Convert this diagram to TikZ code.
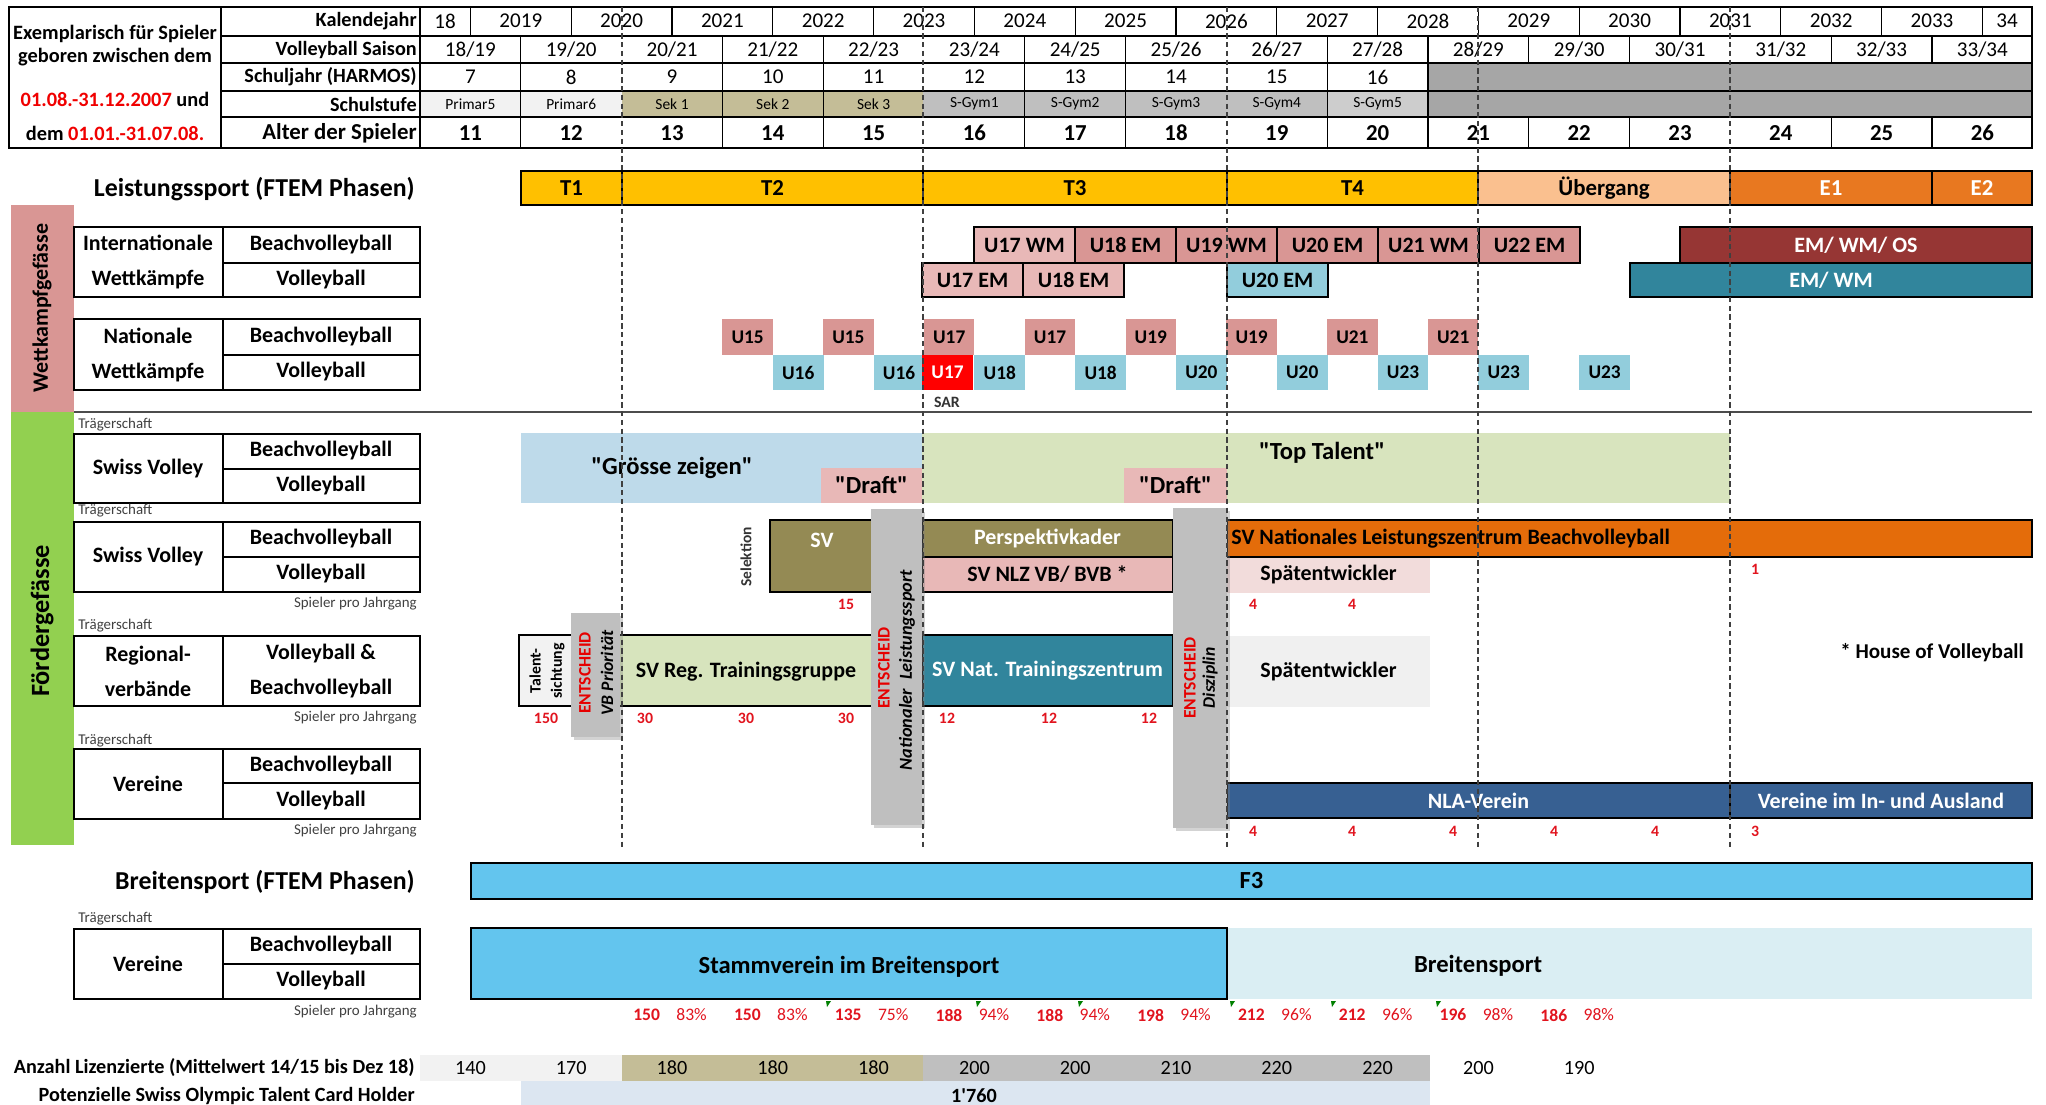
\documentclass[tikz,border=0pt]{standalone}
\usepackage{fontspec}
\setmainfont{Carlito}
\usetikzlibrary{fit,shadows}

\newcommand{\fsz}[2]{\fontsize{#1}{#2}\selectfont}

\definecolor{phasegold}{RGB}{255,192,0}
\definecolor{phasepeach}{RGB}{250,192,143}
\definecolor{phaseorange}{RGB}{232,120,32}
\definecolor{compred}{RGB}{217,150,148}
\definecolor{comppale}{RGB}{232,184,183}
\definecolor{compblue}{RGB}{146,205,220}
\definecolor{sarred}{RGB}{255,0,0}
\definecolor{darkwine}{RGB}{150,54,52}
\definecolor{seateal}{RGB}{49,133,156}
\definecolor{kaderolive}{RGB}{148,138,84}
\definecolor{sekkhaki}{RGB}{196,189,151}
\definecolor{reggreen}{RGB}{215,228,189}
\definecolor{showblue}{RGB}{190,218,234}
\definecolor{topgreen}{RGB}{216,228,190}
\definecolor{latepink}{RGB}{242,220,219}
\definecolor{lategray}{RGB}{240,240,240}
\definecolor{nlzorange}{RGB}{228,108,10}
\definecolor{nlablue}{RGB}{55,96,146}
\definecolor{decgray}{RGB}{191,191,191}
\definecolor{skyblue}{RGB}{99,197,238}
\definecolor{broadlight}{RGB}{218,238,243}
\definecolor{tcblue}{RGB}{220,230,241}
\definecolor{wkband}{RGB}{217,150,148}
\definecolor{fgband}{RGB}{146,208,80}
\definecolor{prigray}{RGB}{242,242,242}
\definecolor{gymgray}{RGB}{191,191,191}
\definecolor{gymlight}{RGB}{205,205,205}
\definecolor{restgray}{RGB}{166,166,166}
\definecolor{numred}{RGB}{225,20,30}
\definecolor{headred}{RGB}{240,0,0}
\definecolor{decred}{RGB}{230,0,0}
\definecolor{commentgreen}{RGB}{0,128,0}

\begin{document}
\begin{tikzpicture}[x=0.02cm,y=-0.02cm]
    \tikzset{
        every node/.style={inner sep=0pt},
        rowhead/.style={anchor=east,font=\fsz{11.5}{13}\bfseries},
        val/.style={font=\fsz{12}{13}},
        stufe/.style={font=\fsz{8.8}{10}},
        ftem/.style={draw,line width=0.8pt},
        ftemtxt/.style={font=\fsz{13}{15}\bfseries},
        comp/.style={draw,line width=0.6pt},
        comptxt/.style={font=\fsz{12.5}{14}\bfseries},
        sqtxt/.style={font=\fsz{11}{12}\bfseries},
        lblbox/.style={draw,line width=0.7pt},
        lbl/.style={font=\fsz{12.5}{20}\bfseries,align=center},
        carrier/.style={anchor=west,font=\fsz{8.5}{10},text=black!75},
        perjg/.style={anchor=east,font=\fsz{8.5}{10},text=black!75},
        headcount/.style={font=\fsz{9}{10}\bfseries,text=numred},
        prog/.style={draw,line width=1.4pt},
        progtxt/.style={font=\fsz{12.5}{14}\bfseries},
        decide/.style={fill=decgray,drop shadow={shadow xshift=1.5pt,shadow yshift=-1.5pt,opacity=.35}},
        decidetxt/.style={rotate=90,font=\fsz{10}{11}\bfseries},
        claim/.style={font=\fsz{14}{16}\bfseries},
        section/.style={anchor=east,font=\fsz{14.7}{17}\bfseries},
        yearline/.style={densely dashed,line width=0.6pt,black!75}
    }
    \useasboundingbox (0,0) rectangle (2046,1105);

    % Kopf
    \fill[prigray] (420,91) rectangle (622,117);
    \fill[sekkhaki] (622,91) rectangle (923,117);
    \fill[gymgray] (923,91) rectangle (1328,117);
    \fill[gymlight] (1328,91) rectangle (1428,117);
    \fill[restgray] (1428,63) rectangle (2032,117);
    \draw[line width=0.7pt] (9,7) rectangle (2032,148);
    \draw[line width=0.7pt] (221,7) -- (221,148) (420,7) -- (420,148);
    \foreach \y in {36,63,91,117}
        \draw[line width=0.6pt] (221,\y) -- (2032,\y);
    \draw[line width=1.6pt] (9,148) -- (2032,148);
    \foreach \i in {0,...,15}
        \draw[line width=0.6pt] ({470.4+100.8*\i},7) -- ++(0,29);
    \foreach \i in {1,3,4,6,7,9,10,11,12,14,15}
        \draw[line width=0.6pt] ({420+100.8*\i},36) -- ++(0,27)
            ({420+100.8*\i},117) -- ++(0,31);
    \foreach \i in {1,3,4,6,7,9,10}
        \draw[line width=0.6pt] ({420+100.8*\i},63) -- ++(0,54);

    \node[font=\fsz{11.6}{14}\bfseries] (expl-1) at (115,34) {Exemplarisch für Spieler};
    \node[font=\fsz{11.6}{14}\bfseries] (expl-2) at (115,57) {geboren zwischen dem};
    \node[font=\fsz{11.6}{14}\bfseries] (expl-3) at (115,99)
        {{\color{headred}01.08.-31.12.2007} und};
    \node[font=\fsz{11.6}{14}\bfseries] (expl-4) at (115,133)
        {dem {\color{headred}01.01.-31.07.08.}};

    \node[rowhead] (kalender) at (417,21) {Kalendejahr};
    \node[rowhead] (saison) at (417,50) {Volleyball Saison};
    \node[rowhead] (schuljahr) at (417,77) {Schuljahr (HARMOS)};
    \node[rowhead] (schulstufe) at (417,104) {Schulstufe};
    \node[rowhead,font=\fsz{13}{15}\bfseries] (alter) at (417,133) {Alter der Spieler};

    \node[val] (kj-0) at (445,21) {18};
    \foreach \yr [count=\i] in {2019,2020,...,2033}
        \node[val] (kj-\i) at ({420+100.8*\i},21) {\yr};
    \node[val] (kj-16) at (2007,21) {34};
    \foreach \s [count=\i from 0] in {18/19,19/20,20/21,21/22,22/23,23/24,24/25,25/26,
            26/27,27/28,28/29,29/30,30/31,31/32,32/33,33/34}
        \node[val] (vs-\i) at ({470.4+100.8*\i},50) {\s};
    \foreach \s [count=\i from 0] in {7,...,16}
        \node[val] (sj-\i) at ({470.4+100.8*\i},77) {\s};
    \foreach \s [count=\i from 0] in {Primar5,Primar6,Sek 1,Sek 2,Sek 3,
            S-Gym1,S-Gym2,S-Gym3,S-Gym4,S-Gym5}
        \node[stufe] (st-\i) at ({470.4+100.8*\i},104) {\s};
    \foreach \a [count=\i from 0] in {11,...,26}
        \node[font=\fsz{13}{15}\bfseries] (age-\i) at ({470.4+100.8*\i},133) {\a};

    % Leistungssport
    \node[section] (leistung) at (415,189) {Leistungssport (FTEM Phasen)};
    \foreach \nm/\xa/\xb/\col/\tc/\lab in {t1/521/622/phasegold/black/T1,
            t2/622/923/phasegold/black/T2, t3/923/1227/phasegold/black/T3,
            t4/1227/1478/phasegold/black/T4, uebergang/1478/1730/phasepeach/black/Übergang,
            e1/1730/1932/phaseorange/white/E1, e2/1932/2032/phaseorange/white/E2} {
        \node[ftem,fill=\col,fit={(\xa,171) (\xb,205)}] (\nm) {};
        \node[ftemtxt,text=\tc] (\nm-txt) at (\nm) {\lab};
    }

    \fill[wkband] (11,205) rectangle (74,412);
    \node[rotate=90,font=\fsz{12.5}{14}\bfseries] (wettkampf) at (42,308) {Wettkampfgefässe};
    \fill[fgband] (11,412) rectangle (74,845);
    \node[rotate=90,font=\fsz{15}{17}\bfseries] (foerder) at (42,621) {Fördergefässe};

    \draw[lblbox] (74,227) rectangle (420,297) (223,227) -- (223,297) (223,263) -- (420,263);
    \node[lbl] (intl) at (148,262) {Internationale\\Wettkämpfe};
    \node[lbl] (intl-bv) at (321,245) {Beachvolleyball};
    \node[lbl] (intl-vb) at (321,280) {Volleyball};
    \draw[lblbox] (74,319) rectangle (420,390) (223,319) -- (223,390) (223,355) -- (420,355);
    \node[lbl] (nat) at (148,355) {Nationale\\Wettkämpfe};
    \node[lbl] (nat-bv) at (321,337) {Beachvolleyball};
    \node[lbl] (nat-vb) at (321,372) {Volleyball};

    \foreach \nm/\xa/\xb/\ya/\yb/\col/\tc/\lab in {
            u17wm/974/1075/227/263/comppale/black/U17 WM,
            u18em-bv/1075/1176/227/263/compred/black/U18 EM,
            u19wm/1176/1277/227/263/compred/black/U19 WM,
            u20em-bv/1277/1378/227/263/compred/black/U20 EM,
            u21wm/1378/1479/227/263/compred/black/U21 WM,
            u22em/1479/1580/227/263/compred/black/U22 EM,
            emwmos/1680/2032/227/263/darkwine/white/{EM/ WM/ OS},
            u17em/922/1023/263/297/comppale/black/U17 EM,
            u18em-vb/1023/1124/263/297/comppale/black/U18 EM,
            u20em-vb/1227/1328/263/297/compblue/black/U20 EM,
            emwm/1630/2032/263/297/seateal/white/{EM/ WM}} {
        \node[comp,fill=\col,fit={(\xa,\ya) (\xb,\yb)}] (\nm) {};
        \node[comptxt,text=\tc] (\nm-txt) at (\nm) {\lab};
    }

    \foreach \lab [count=\i from 3] in {U15,U15,U17,U17,U19,U19,U21,U21} {
        \node[fill=compred,fit={({420+100.8*\i},319) ({470.4+100.8*\i},355)}] (nb-\i) {};
        \node[sqtxt] (nb-\i-txt) at (nb-\i) {\lab};
    }
    \foreach \lab [count=\i from 3] in {U16,U16,U18,U18,U20,U20,U23,U23,U23} {
        \node[fill=compblue,fit={({470.4+100.8*\i},355) ({521.2+100.8*\i},390)}] (nv-\i) {};
        \node[sqtxt] (nv-\i-txt) at (nv-\i) {\lab};
    }
    \node[fill=sarred,fit={(922,355) (973,390)}] (u17sar) {};
    \node[sqtxt,text=white] (u17sar-txt) at (u17sar) {U17};
    \node[font=\fsz{9}{10}\bfseries,text=black!80] (sar) at (947,402) {SAR};

    \draw[line width=1pt,black!70] (74,412) -- (2032,412);

    % Foerdergefaesse
    \node[carrier] (traeger-1) at (78,425) {Trägerschaft};
    \draw[lblbox] (74,434) rectangle (420,503) (223,434) -- (223,503) (223,469) -- (420,469);
    \node[lbl] (sv-1) at (148,469) {Swiss Volley};
    \node[lbl] (sv-1-bv) at (321,451) {Beachvolleyball};
    \node[lbl] (sv-1-vb) at (321,486) {Volleyball};

    \node[carrier] (traeger-2) at (78,511) {Trägerschaft};
    \draw[lblbox] (74,522) rectangle (420,592) (223,522) -- (223,592) (223,557) -- (420,557);
    \node[lbl] (sv-2) at (148,557) {Swiss Volley};
    \node[lbl] (sv-2-bv) at (321,539) {Beachvolleyball};
    \node[lbl] (sv-2-vb) at (321,574) {Volleyball};
    \node[perjg] (perjg-1) at (417,604) {Spieler pro Jahrgang};

    \node[carrier] (traeger-3) at (78,626) {Trägerschaft};
    \draw[lblbox] (74,636) rectangle (420,706) (223,636) -- (223,706);
    \node[lbl] (reg) at (148,671) {Regional-\\verbände};
    \node[lbl] (reg-vb) at (321,671) {Volleyball \&\\Beachvolleyball};
    \node[perjg] (perjg-2) at (417,718) {Spieler pro Jahrgang};

    \node[carrier] (traeger-4) at (78,741) {Trägerschaft};
    \draw[lblbox] (74,749) rectangle (420,819) (223,749) -- (223,819) (223,783) -- (420,783);
    \node[lbl] (verein-1) at (148,784) {Vereine};
    \node[lbl] (verein-1-bv) at (321,766) {Beachvolleyball};
    \node[lbl] (verein-1-vb) at (321,801) {Volleyball};
    \node[perjg] (perjg-3) at (417,831) {Spieler pro Jahrgang};

    \node[fill=showblue,fit={(521,433) (922,503)}] (groesse) {};
    \node[claim] (groesse-txt) at (672,468) {\textquotedbl Grösse zeigen\textquotedbl};
    \node[fill=topgreen,fit={(922,433) (1730,503)}] (toptalent) {};
    \node[claim] (toptalent-txt) at (1322,453) {\textquotedbl Top Talent\textquotedbl};
    \node[fill=comppale,fit={(821,468) (922,503)}] (draft-1) {};
    \node[claim] (draft-1-txt) at (draft-1) {\textquotedbl Draft\textquotedbl};
    \node[fill=comppale,fit={(1124,468) (1227,503)}] (draft-2) {};
    \node[claim] (draft-2-txt) at (draft-2) {\textquotedbl Draft\textquotedbl};

    \node[rotate=90,font=\fsz{8.8}{10}\bfseries,text=black!80] (selektion) at (746,557) {Selektion};
    \node[prog,fill=kaderolive,fit={(770,520) (922,592)}] (sv) {};
    \node[progtxt,text=white] (sv-txt) at (822,540) {SV};
    \node[prog,fill=kaderolive,fit={(922,520) (1173,557)}] (kader) {};
    \node[progtxt,text=white] (kader-txt) at (kader) {Perspektivkader};
    \node[prog,fill=comppale,fit={(922,557) (1173,592)}] (nlz) {};
    \node[progtxt] (nlz-txt) at (nlz) {SV NLZ VB/ BVB *};
    \node[fill=latepink,fit={(1227,557) (1430,593)}] (spaet-1) {};
    \node[progtxt] (spaet-1-txt) at (spaet-1) {Spätentwickler};
    \node[prog,fill=nlzorange,fit={(1227,520) (2032,557)}] (nlz-bv) {};
    \node[progtxt,anchor=west] (nlz-bv-txt) at (1231,539)
        {SV Nationales Leistungszentrum Beachvolleyball};
    \node[headcount] (n-sv) at (846,604) {15};
    \node[headcount] (n-spaet-1) at (1253,604) {4};
    \node[headcount] (n-spaet-2) at (1352,604) {4};
    \node[headcount] (n-nlz) at (1755,569) {1};

    \node[prog,fill=prigray,fit={(519,635) (590,706)}] (talent) {};
    \node[rotate=90,align=center,font=\fsz{9}{12}\bfseries] (talent-txt) at (547,671) {Talent-\\sichtung};
    \node[prog,fill=reggreen,fit={(590,635) (880,706)}] (regtg) {};
    \node[progtxt] (regtg-txt) at (746,672) {SV Reg. Trainingsgruppe};
    \node[prog,fill=seateal,fit={(922,635) (1173,706)}] (nattz) {};
    \node[progtxt,text=white] (nattz-txt) at (nattz) {SV Nat. Trainingszentrum};
    \node[fill=lategray,fit={(1227,636) (1430,707)}] (spaet-2) {};
    \node[progtxt] (spaet-2-txt) at (spaet-2) {Spätentwickler};
    \node[headcount] (n-talent) at (546,718) {150};
    \foreach \nx [count=\i] in {645,746,846}
        \node[headcount] (n-reg-\i) at (\nx,718) {30};
    \foreach \nx [count=\i] in {947,1049,1149}
        \node[headcount] (n-nat-\i) at (\nx,718) {12};
    \node[font=\fsz{12}{14}\bfseries] (hov) at (1932,653) {* House of Volleyball};

    \node[prog,fill=nlablue,fit={(1227,783) (1730,818)}] (nla) {};
    \node[progtxt,text=white] (nla-txt) at (nla) {NLA-Verein};
    \node[prog,fill=nlablue,fit={(1730,783) (2032,818)}] (ausland) {};
    \node[progtxt,text=white] (ausland-txt) at (ausland) {Vereine im In- und Ausland};
    \foreach \nx [count=\i] in {1253,1352,1453,1554,1655}
        \node[headcount] (n-nla-\i) at (\nx,831) {4};
    \node[headcount] (n-ausland) at (1755,831) {3};

    % Entscheide
    \node[decide,fit={(571,613) (620,737)}] (dec-vb) {};
    \node[decidetxt,text=decred] (dec-vb-1) at (585,673) {ENTSCHEID};
    \node[decidetxt,font=\fsz{10}{11}\bfseries\itshape] (dec-vb-2) at (607,673) {VB Priorität};
    \node[decide,fit={(871,509) (922,825)}] (dec-nat) {};
    \node[decidetxt,text=decred] (dec-nat-1) at (884,668) {ENTSCHEID};
    \node[decidetxt,font=\fsz{10.4}{11}\bfseries\itshape] (dec-nat-2) at (907,670)
        {Nationaler\enspace Leistungssport};
    \node[decide,fit={(1173,508) (1227,828)}] (dec-dis) {};
    \node[decidetxt,text=decred] (dec-dis-1) at (1190,678) {ENTSCHEID};
    \node[decidetxt,font=\fsz{10}{11}\bfseries\itshape] (dec-dis-2) at (1210,678) {Disziplin};

    \foreach \gx in {622,923,1227,1478,1730}
        \draw[yearline] (\gx,7) -- (\gx,848);

    % Breitensport
    \node[section] (breiten) at (415,882) {Breitensport (FTEM Phasen)};
    \node[ftem,fill=skyblue,fit={(471,863) (2032,899)}] (f3) {};
    \node[claim] (f3-txt) at (f3) {F3};
    \node[carrier] (traeger-5) at (78,919) {Trägerschaft};
    \draw[lblbox] (74,929) rectangle (420,999) (223,929) -- (223,999) (223,964) -- (420,964);
    \node[lbl] (verein-2) at (148,964) {Vereine};
    \node[lbl] (verein-2-bv) at (321,946) {Beachvolleyball};
    \node[lbl] (verein-2-vb) at (321,981) {Volleyball};
    \node[perjg] (perjg-4) at (417,1012) {Spieler pro Jahrgang};
    \node[fill=broadlight,fit={(1227,928) (2032,999)}] (breit) {};
    \node[claim] (breit-txt) at (1478,966) {Breitensport};
    \node[prog,fill=skyblue,fit={(471,928) (1227,999)}] (stamm) {};
    \node[claim] (stamm-txt) at (849,967) {Stammverein im Breitensport};
    \foreach \n/\p [count=\i from 2] in {150/83\%,150/83\%,135/75\%,188/94\%,188/94\%,
            198/94\%,212/96\%,212/96\%,196/98\%,186/98\%} {
        \node[font=\fsz{10}{12}\bfseries,text=numred] (bn-\i) at ({445+100.8*\i},1015) {\n};
        \node[font=\fsz{10}{12},text=numred] (bp-\i) at ({490+100.8*\i},1015) {\p};
    }
    \foreach \mx in {826,976,1078,1230,1331,1436}
        \fill[commentgreen] (\mx,1001) -- ++(5,0) -- ++(-4,6) -- cycle;

    % Lizenzierte
    \fill[prigray] (420,1055) rectangle (622,1081);
    \fill[sekkhaki] (622,1055) rectangle (923,1081);
    \fill[gymgray] (923,1055) rectangle (1430,1081);
    \fill[tcblue] (521,1081) rectangle (1430,1105);
    \node[section,font=\fsz{11.5}{13}\bfseries] (lizenz) at (415,1068)
        {Anzahl Lizenzierte (Mittelwert 14/15 bis Dez 18)};
    \foreach \n [count=\i from 0] in {140,170,180,180,180,200,200,210,220,220,200,190}
        \node[val,font=\fsz{11.5}{13}] (liz-\i) at ({470.4+100.8*\i},1068) {\n};
    \node[section,font=\fsz{11.5}{13}\bfseries] (tcholder) at (415,1096)
        {Potenzielle Swiss Olympic Talent Card Holder};
    \node[font=\fsz{11.5}{13}\bfseries] (tc-count) at (974,1096) {1\textquotesingle 760};
\end{tikzpicture}
\end{document}
